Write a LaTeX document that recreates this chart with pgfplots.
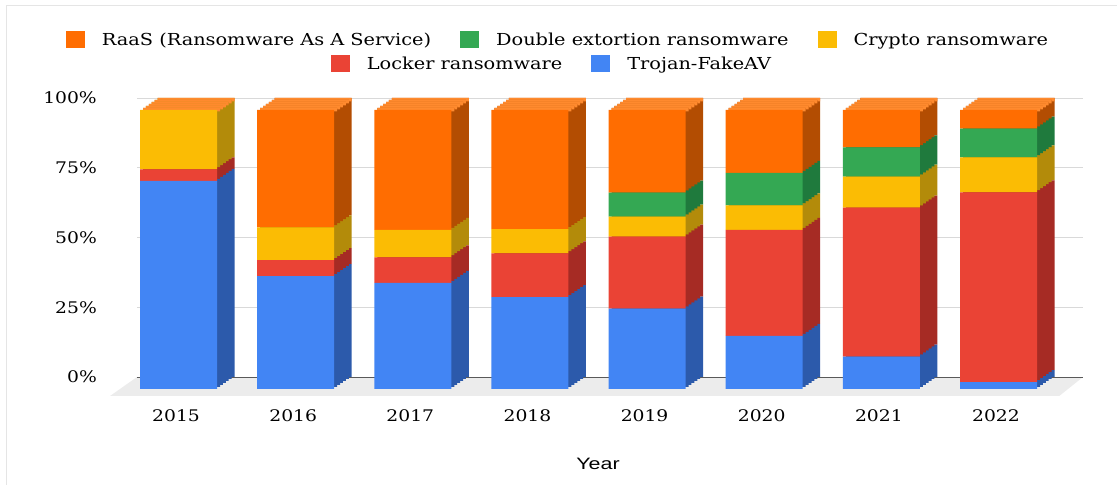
\documentclass[border=0pt]{standalone}
\usepackage{fontspec}
\setmainfont{DejaVu Serif}[FakeStretch=1.17]
\newfontfamily\yearfont{Liberation Sans}[FakeStretch=1.3]
\usepackage{pgfplots}
\usepackage{pgfplotstable}
\pgfplotsset{compat=1.18}

\definecolor{blueF}{HTML}{4285F4}
\definecolor{blueS}{HTML}{2C5AAB}
\definecolor{redF}{HTML}{EA4335}
\definecolor{redS}{HTML}{A62B24}
\definecolor{yelF}{HTML}{FBBC04}
\definecolor{yelS}{HTML}{B38B0A}
\definecolor{grnF}{HTML}{34A853}
\definecolor{grnS}{HTML}{1F7A3D}
\definecolor{orgF}{HTML}{FF6D01}
\definecolor{orgS}{HTML}{B34D02}
\definecolor{orgT}{HTML}{FF8A2E}

% shares (%) per year: Trojan-FakeAV, Locker, Crypto, Double extortion, RaaS
\pgfplotstableread{
x trojan locker crypto double raas
0 74.6 4.1 21.3 0 0
1 40.5 5.7 11.7 0 42.1
2 38.0 9.2 9.8 0 43.0
3 32.9 15.7 8.7 0 42.7
4 28.8 25.8 7.2 8.6 29.6
5 19.0 38.0 8.8 11.7 22.5
6 11.6 53.4 11.1 10.5 13.4
7 2.5 68.0 12.5 10.3 6.7
}\shares

% 3D depth geometry: top-face slice of each depth layer (base and thickness)
\pgfplotstableread{
x capbase cap
0 98.8 1.2
1 98.8 1.2
2 98.8 1.2
3 98.8 1.2
4 98.8 1.2
5 98.8 1.2
6 98.8 1.2
7 98.8 1.2
}\geom

\pgfplotsset{
  base/.style={anchor=south west, scale only axis,
    width=946pt, height=279pt, xmin=-0.504, xmax=7.572, ymin=0, ymax=100, clip=false},
  barlayer/.style={base, hide axis, ybar stacked, bar width=77pt, bar shift=0pt},
  sqlegend/.style={legend image code/.code={\fill[##1] (0pt,-8.5pt) rectangle (19pt,8.5pt);},
    legend cell align=left,
    legend style={draw=none, fill=none, font=\fontsize{16.5}{19}\selectfont,
      /tikz/every even column/.append style={column sep=27pt},
      /tikz/every odd column/.append style={column sep=15pt}}},
}

% one depth slice of the 3D bars: darker side colours, light top face
\newcommand{\sidelayer}[2]{%
  \begin{axis}[barlayer, at={(#1pt,#2pt)}]
  \addplot[fill=blueS, draw=none] table[x=x, y=trojan]{\shares};
  \addplot[fill=redS, draw=none] table[x=x, y=locker]{\shares};
  \addplot[fill=yelS, draw=none] table[x=x, y=crypto]{\shares};
  \addplot[fill=grnS, draw=none] table[x=x, y=double]{\shares};
  \addplot[fill=orgS, draw=none] table[x=x, y=raas]{\shares};
  \end{axis}
  \begin{axis}[barlayer, at={(#1pt,#2pt)}]
  \addplot[fill=none, draw=none] table[x=x, y=capbase]{\geom};
  \addplot[fill=orgT, draw=none] table[x=x, y=cap]{\geom};
  \end{axis}}

\begin{document}
\begin{tikzpicture}
\path[use as bounding box] (0,0) rectangle (1117pt,485pt);
\draw[gray!20, line width=1.5pt] (6.5pt,0) -- (6.5pt,479.5pt) -- (1117pt,479.5pt);

% frame: grid, ticks, floor, legend row 2
\begin{axis}[base, at={(137pt,108pt)}, axis on top, axis line style={draw=none}, major tick length=0pt,
  ymajorgrids, grid style={gray!30, line width=0.9pt},
  ytick={25,50,75,100}, yticklabels={25\%,50\%,75\%,100\%},
  extra y ticks={0}, extra y tick labels={0\%},
  extra y tick style={grid style={gray!70!black, line width=1pt}},
  yticklabel style={anchor=east, inner sep=0pt, xshift=-40pt, font=\fontsize{16}{16}\selectfont},
  xtick={0,1,2,3,4,5,6,7},
  xticklabels={2015,2016,2017,2018,2019,2020,2021,2022},
  xticklabel style={anchor=center, inner sep=0pt, xshift=-20pt, yshift=-39pt, font=\fontsize{16}{16}\selectfont},
  xlabel={Year},
  xlabel style={at={(axis description cs:0.4873,0)}, anchor=center, yshift=-87pt,
    font=\yearfont\fontsize{16.5}{18}\selectfont},
  sqlegend,
  legend style={at={(axis description cs:0.4387,1.1219)}, anchor=center},
  legend columns=2]
\addplot[fill=gray!15, draw=none, forget plot] coordinates {(-0.504,0) (7.572,0) (7.37,-6.8) (-0.734,-6.8)};
\addlegendimage{fill=redF, draw=none}
\addlegendentry{Locker ransomware}
\addlegendimage{fill=blueF, draw=none}
\addlegendentry{Trojan-FakeAV}
\end{axis}

% depth slices, back to front
\sidelayer{137}{108}
\sidelayer{134.1}{106}
\sidelayer{131.2}{104}
\sidelayer{128.3}{102}
\sidelayer{125.4}{100}
\sidelayer{122.5}{98}

% front faces, legend row 1
\begin{axis}[barlayer, at={(119.5pt,96pt)},
  sqlegend,
  legend style={at={(axis description cs:0.4635,1.2509)}, anchor=center},
  legend columns=3]
\addplot[fill=blueF, draw=none, forget plot] table[x=x, y=trojan]{\shares};
\addplot[fill=redF, draw=none, forget plot] table[x=x, y=locker]{\shares};
\addplot[fill=yelF, draw=none, forget plot] table[x=x, y=crypto]{\shares};
\addplot[fill=grnF, draw=none, forget plot] table[x=x, y=double]{\shares};
\addplot[fill=orgF, draw=none, forget plot] table[x=x, y=raas]{\shares};
\addlegendimage{fill=orgF, draw=none}
\addlegendentry{RaaS (Ransomware As A Service)}
\addlegendimage{fill=grnF, draw=none}
\addlegendentry{Double extortion ransomware}
\addlegendimage{fill=yelF, draw=none}
\addlegendentry{Crypto ransomware}
\end{axis}
\end{tikzpicture}
\end{document}
